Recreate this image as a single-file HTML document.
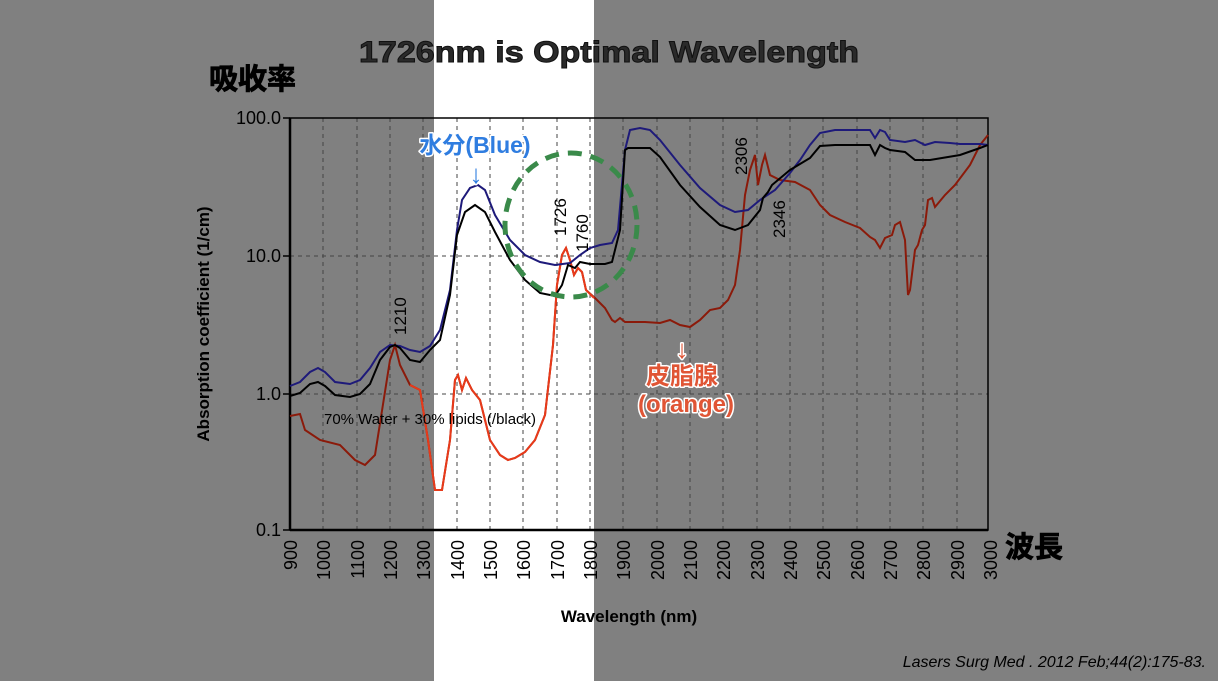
<!DOCTYPE html>
<html><head><meta charset="utf-8"><style>
body{margin:0;width:1218px;height:681px;background:#808080;overflow:hidden;position:relative;font-family:"Liberation Sans","Noto Sans CJK JP",sans-serif}
</style></head><body>
<div style="position:absolute;left:434px;top:0;width:160px;height:681px;background:#fff"></div>
<svg width="1218" height="681" style="position:absolute;left:0;top:0" font-family="Liberation Sans, Noto Sans CJK JP, sans-serif">
<g stroke="#444" stroke-dasharray="4,4" stroke-width="1">
<line x1="323" y1="118" x2="323" y2="530"/><line x1="357" y1="118" x2="357" y2="530"/><line x1="390" y1="118" x2="390" y2="530"/><line x1="423" y1="118" x2="423" y2="530"/><line x1="457" y1="118" x2="457" y2="530"/><line x1="490" y1="118" x2="490" y2="530"/><line x1="523" y1="118" x2="523" y2="530"/><line x1="557" y1="118" x2="557" y2="530"/><line x1="590" y1="118" x2="590" y2="530"/><line x1="623" y1="118" x2="623" y2="530"/><line x1="657" y1="118" x2="657" y2="530"/><line x1="690" y1="118" x2="690" y2="530"/><line x1="723" y1="118" x2="723" y2="530"/><line x1="757" y1="118" x2="757" y2="530"/><line x1="790" y1="118" x2="790" y2="530"/><line x1="823" y1="118" x2="823" y2="530"/><line x1="857" y1="118" x2="857" y2="530"/><line x1="890" y1="118" x2="890" y2="530"/><line x1="923" y1="118" x2="923" y2="530"/><line x1="957" y1="118" x2="957" y2="530"/>
<line x1="290" y1="256" x2="988" y2="256"/><line x1="290" y1="394" x2="988" y2="394"/>
</g>
<rect x="290" y="118" width="698" height="412" fill="none" stroke="#000" stroke-width="1.5"/>
<line x1="290" y1="118" x2="290" y2="530" stroke="#000" stroke-width="2.5"/>
<line x1="290" y1="530" x2="988" y2="530" stroke="#000" stroke-width="2.5"/>
<g stroke="#000" stroke-width="1.5"><line x1="283" y1="118" x2="290" y2="118"/><line x1="283" y1="256" x2="290" y2="256"/><line x1="283" y1="394" x2="290" y2="394"/><line x1="283" y1="530" x2="290" y2="530"/></g>
<g font-size="18" fill="#000" text-anchor="end"><text x="281" y="124">100.0</text><text x="281" y="262">10.0</text><text x="281" y="400">1.0</text><text x="281" y="536">0.1</text></g>
<g font-size="18" fill="#000" text-anchor="end">
<text transform="translate(297,540) rotate(-90)">900</text><text transform="translate(330,540) rotate(-90)">1000</text><text transform="translate(364,540) rotate(-90)">1100</text><text transform="translate(397,540) rotate(-90)">1200</text><text transform="translate(430,540) rotate(-90)">1300</text><text transform="translate(464,540) rotate(-90)">1400</text><text transform="translate(497,540) rotate(-90)">1500</text><text transform="translate(530,540) rotate(-90)">1600</text><text transform="translate(564,540) rotate(-90)">1700</text><text transform="translate(597,540) rotate(-90)">1800</text><text transform="translate(630,540) rotate(-90)">1900</text><text transform="translate(664,540) rotate(-90)">2000</text><text transform="translate(697,540) rotate(-90)">2100</text><text transform="translate(730,540) rotate(-90)">2200</text><text transform="translate(764,540) rotate(-90)">2300</text><text transform="translate(797,540) rotate(-90)">2400</text><text transform="translate(830,540) rotate(-90)">2500</text><text transform="translate(864,540) rotate(-90)">2600</text><text transform="translate(897,540) rotate(-90)">2700</text><text transform="translate(930,540) rotate(-90)">2800</text><text transform="translate(964,540) rotate(-90)">2900</text><text transform="translate(997,540) rotate(-90)">3000</text>
</g>
<text x="629" y="622" font-size="17" font-weight="bold" text-anchor="middle">Wavelength (nm)</text>
<text transform="translate(209,324) rotate(-90)" font-size="17" font-weight="bold" text-anchor="middle">Absorption coefficient (1/cm)</text>
<polyline fill="none" stroke="#8b1a0a" stroke-width="2" points="290,416 300,414 305,430 320,440 340,445 355,460 365,465 375,455 390,360 395,345 400,365 410,385 420,390 428,440 435,490 442,490 450,440 455,380 458,375 462,390 466,378 472,390 480,400 490,440 500,455 508,460 515,458 525,452 535,440 545,415 553,345 557,285 562,255 566,248 570,260 574,275 578,268 582,272 586,290 595,298 605,308 612,320 615,322 620,318 625,322 645,322 660,323 670,320 680,325 690,327 700,320 710,310 720,308 728,300 735,285 740,250 745,195 750,170 755,155 758,185 762,165 765,155 770,175 780,180 795,182 810,190 820,205 830,215 845,222 860,228 870,237 875,240 880,248 885,238 892,235 895,225 900,222 905,240 908,295 910,290 915,250 918,245 922,230 925,225 928,200 932,198 935,207 945,195 955,185 970,165 980,145 988,135"/>
<polyline fill="none" stroke="#e83a1a" stroke-width="2" points="410,385 420,390 428,440 435,490 442,490 450,440 455,380 458,375 462,390 466,378 472,390 480,400 490,440 500,455 508,460 515,458 525,452 535,440 545,415 553,345 557,285 562,255 566,248 570,260 574,275 578,268 582,272 586,290 594,298"/>
<polyline fill="none" stroke="#1e1a7a" stroke-width="2" points="290,386 300,382 310,372 318,368 325,372 335,382 350,384 360,380 370,368 380,352 390,345 400,346 410,350 420,352 430,346 440,330 450,290 457,230 462,200 470,188 478,185 485,190 495,215 510,240 525,255 540,262 555,265 570,263 580,255 590,248 600,245 612,243 618,230 625,150 630,130 640,128 650,130 660,140 680,165 700,188 720,205 735,212 748,210 760,200 775,190 790,173 800,160 810,145 820,133 835,130 870,130 875,138 880,130 885,132 890,140 905,142 915,140 925,145 935,142 950,143 960,144 980,144 988,145"/>
<polyline fill="none" stroke="#000" stroke-width="2" points="290,396 300,393 310,384 318,382 325,386 335,395 350,397 360,394 370,384 380,360 390,347 395,345 400,348 410,360 420,362 430,350 440,340 450,295 457,235 465,212 475,205 485,212 495,232 510,260 525,280 540,293 555,296 562,285 568,265 575,268 580,262 590,264 605,264 612,262 620,230 625,150 628,148 650,148 660,157 680,185 700,207 720,225 735,230 748,225 760,210 763,198 768,192 772,185 778,180 790,170 810,158 820,146 835,145 870,145 875,155 880,145 885,148 890,150 905,152 915,160 930,160 960,155 980,148 988,145"/>
<ellipse cx="571" cy="225" rx="66" ry="72" fill="none" stroke="#3a8a4a" stroke-width="5" stroke-dasharray="14,9"/>
<g font-size="17" fill="#000">
<text transform="translate(406,335) rotate(-90)">1210</text>
<text transform="translate(566,236) rotate(-90)">1726</text>
<text transform="translate(588,252) rotate(-90)">1760</text>
<text transform="translate(747,175) rotate(-90)">2306</text>
<text transform="translate(785,238) rotate(-90)">2346</text>
<text x="324" y="424" font-size="15" textLength="212">70% Water + 30% lipids (/black)</text>
</g>
<g font-weight="bold" text-anchor="middle" stroke="#fff" stroke-width="3" paint-order="stroke" stroke-linejoin="round">
<text x="475" y="153" font-size="23" fill="#2f7de0">水分(Blue)</text>
<text x="476" y="183" font-size="26" fill="#2f7de0">↓</text>
<text x="682" y="358" font-size="26" fill="#e05535">↓</text>
<text x="682" y="384" font-size="24" fill="#e05535">皮脂腺</text>
<text x="686" y="412" font-size="24" fill="#e05535">(orange)</text>
</g>
<text x="609" y="62" font-size="30" font-weight="bold" fill="#2a2a2a" text-anchor="middle" stroke="#111" stroke-width="1" textLength="500" lengthAdjust="spacingAndGlyphs">1726nm is Optimal Wavelength</text>
<text x="209" y="89" font-size="29" font-weight="bold" fill="#000" stroke="#000" stroke-width="0.8">吸收率</text>
<text x="1005" y="557" font-size="29" font-weight="bold" fill="#000" stroke="#000" stroke-width="0.8">波長</text>
<text x="1206" y="667" font-size="16" font-style="italic" fill="#000" text-anchor="end">Lasers Surg Med . 2012 Feb;44(2):175-83.</text>
</svg>
</body></html>
